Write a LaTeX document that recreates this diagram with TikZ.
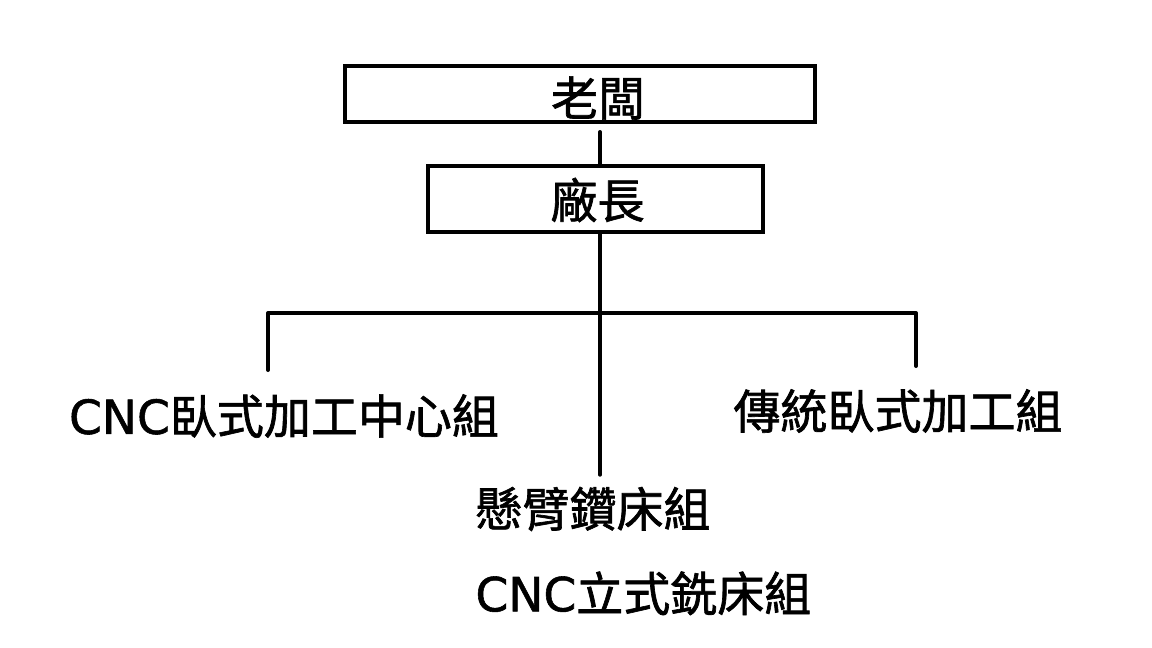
\documentclass[tikz,border=0pt]{standalone}
\usepackage{fontspec}
\setmainfont{Noto Sans CJK TC}[FakeBold=1.4]
\newfontfamily\latin{DejaVu Sans}[FakeBold=1.2]
\usetikzlibrary{positioning}
\tikzset{
  post/.style={draw, line width=4pt, minimum height=56pt},
  group/.style={inner sep=0pt, font=\fontsize{47}{56}\selectfont},
  link/.style={line width=4pt, line cap=round, line join=round}
}

\begin{document}
\begin{tikzpicture}[x=1pt,y=-1pt]
    \useasboundingbox (0,0) rectangle (1152,648);

    \node[post, minimum width=470pt,
      label={[group, xshift=18pt, yshift=-4pt]center:老闆}] (boss) at (580,94) {};
    \node[post, minimum width=335pt, minimum height=66pt,
      label={[group, xshift=2pt, yshift=-1pt]center:廠長}] (manager) at (595.5,199) {};

    \node[group] (hmc) at (284,416) {{\latin CNC}臥式加工中心組};
    \node[group] (lathe) at (898,411) {傳統臥式加工組};
    \node[group] (drill) at (593,509) {懸臂鑽床組};
    \node[group, below=40pt of drill.south west, anchor=north west] (vmill) {{\latin CNC}立式銑床組};

    \coordinate (bus) at (600,313);
    \coordinate (hmc drop) at (268,370);
    \coordinate (lathe drop) at (916,366);

    \draw[link, shorten <=8pt] (boss.south -| bus) -- (manager.north -| bus);
    \draw[link, shorten >=12pt] (manager.south -| bus) -- (drill.north -| bus);
    \draw[link] (hmc drop) |- (bus) -| (lathe drop);
\end{tikzpicture}
\end{document}
